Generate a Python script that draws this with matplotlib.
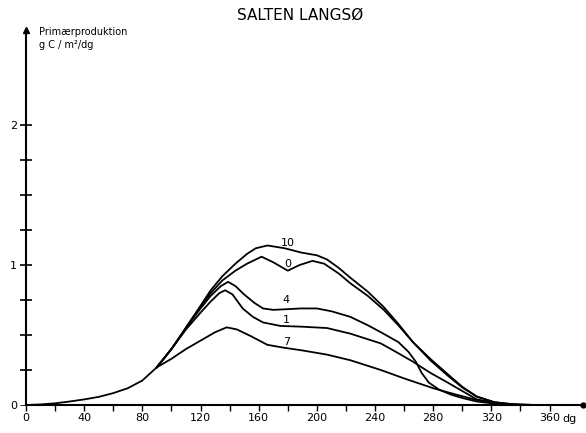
import matplotlib.pyplot as plt

# Primærproduktion (g C / m2 / dg) over året, Salten Langsø
x_start = [0, 10, 20, 30, 40, 50, 60, 70, 80, 90]
y_start = [0, 0.004, 0.012, 0.025, 0.04, 0.058, 0.085, 0.12, 0.175, 0.27]

x10 = [90, 100, 104, 115, 127, 135, 144, 152, 158, 166, 178, 189, 200, 207, 215,
       223, 235, 246, 256, 266, 278, 290, 300, 310, 322, 335, 350, 384]
y10 = [0.27, 0.40, 0.46, 0.63, 0.82, 0.92, 1.01, 1.08, 1.12, 1.14, 1.12, 1.09,
       1.07, 1.04, 0.98, 0.91, 0.81, 0.70, 0.58, 0.45, 0.33, 0.22, 0.13, 0.06,
       0.02, 0.005, 0, 0]

x0 = [90, 100, 104, 115, 127, 135, 144, 152, 162, 170, 180, 188, 197, 205, 215,
      223, 235, 246, 256, 266, 278, 290, 300, 310, 322, 335, 350, 384]
y0 = [0.27, 0.40, 0.46, 0.63, 0.80, 0.89, 0.96, 1.01, 1.06, 1.02, 0.96, 1.00,
      1.03, 1.01, 0.94, 0.87, 0.78, 0.68, 0.57, 0.45, 0.32, 0.21, 0.125, 0.06,
      0.02, 0.005, 0, 0]

x4 = [90, 100, 110, 120, 127, 134, 139, 144, 150, 157, 163, 170, 180, 189, 200,
      210, 223, 235, 244, 256, 263, 268, 272, 277, 284, 292, 300, 310, 325, 340,
      384]
y4 = [0.27, 0.40, 0.55, 0.69, 0.78, 0.85, 0.88, 0.85, 0.79, 0.73, 0.69, 0.68,
      0.685, 0.69, 0.69, 0.67, 0.63, 0.57, 0.52, 0.45, 0.38, 0.31, 0.23, 0.16,
      0.11, 0.075, 0.05, 0.025, 0.006, 0, 0]

x1 = [90, 100, 110, 120, 127, 133, 137, 142, 149, 156, 163, 175, 189, 207, 223,
      235, 244, 256, 266, 278, 290, 300, 310, 325, 340, 384]
y1 = [0.27, 0.40, 0.54, 0.66, 0.74, 0.80, 0.82, 0.79, 0.69, 0.63, 0.59, 0.565,
      0.56, 0.55, 0.51, 0.47, 0.44, 0.37, 0.31, 0.23, 0.16, 0.10, 0.04, 0.01,
      0, 0]

x7 = [90, 100, 110, 120, 130, 138, 145, 155, 166, 177, 190, 207, 223, 244, 260,
      280, 292, 310, 325, 340, 384]
y7 = [0.27, 0.33, 0.40, 0.46, 0.52, 0.555, 0.54, 0.49, 0.43, 0.41, 0.39, 0.36,
      0.32, 0.25, 0.19, 0.12, 0.085, 0.035, 0.01, 0, 0]

curves = [(x10, y10, "10", 180, 1.16), (x0, y0, "0", 180, 1.01),
          (x4, y4, "4", 179, 0.75), (x1, y1, "1", 179, 0.61),
          (x7, y7, "7", 179, 0.45)]

fig = plt.figure(figsize=(5.86, 4.33), dpi=100)
ax = fig.add_axes([26 / 586, 28 / 433, 557 / 586, 375 / 433])

lw = 1.3
ax.plot(x_start, y_start, color="black", lw=lw)
for xs, ys, lab, lx, ly in curves:
    ax.plot(xs, ys, color="black", lw=lw)
    ax.text(lx, ly, lab, fontsize=8, ha="center", va="center")

ax.set_xlim(0, 383)
ax.set_ylim(0, 2.68)

for s in ["top", "right"]:
    ax.spines[s].set_visible(False)
ax.spines["left"].set_linewidth(1.5)
ax.spines["bottom"].set_linewidth(1.5)

# axis arrows
ax.plot(0, 1, "^k", ms=5, transform=ax.transAxes, clip_on=False)
ax.plot(1, 0, "ok", ms=3.5, transform=ax.transAxes, clip_on=False)

ax.set_yticks([i * 0.25 for i in range(1, 9)])
ax.set_yticklabels(["", "", "", "1", "", "", "", "2"])
ax.set_yticks([0], minor=True)
ax.set_yticklabels(["0"], minor=True)
ax.tick_params(axis="y", which="major", direction="inout", length=9, width=1.2,
               labelsize=8, pad=2)
ax.tick_params(axis="y", which="minor", length=4, labelsize=8, pad=2)

ax.set_xticks(range(0, 361, 40))
ax.set_xticklabels([str(v) for v in range(0, 361, 40)])
ax.set_xticks(range(20, 361, 40), minor=True)
ax.tick_params(axis="x", which="both", direction="out", length=4, width=1,
               labelsize=8, pad=2)
ax.text(374, -0.1, "dg", fontsize=8, ha="center", va="center")

fig.text(300 / 586, 1 - 15 / 433, "SALTEN LANGSØ", fontsize=11, ha="center",
         va="center")
ax.text(9, 2.62, "Primærproduktion\ng C / m²/dg", fontsize=7, ha="left",
        va="center", linespacing=1.4)

fig.savefig("out.png", dpi=100)
